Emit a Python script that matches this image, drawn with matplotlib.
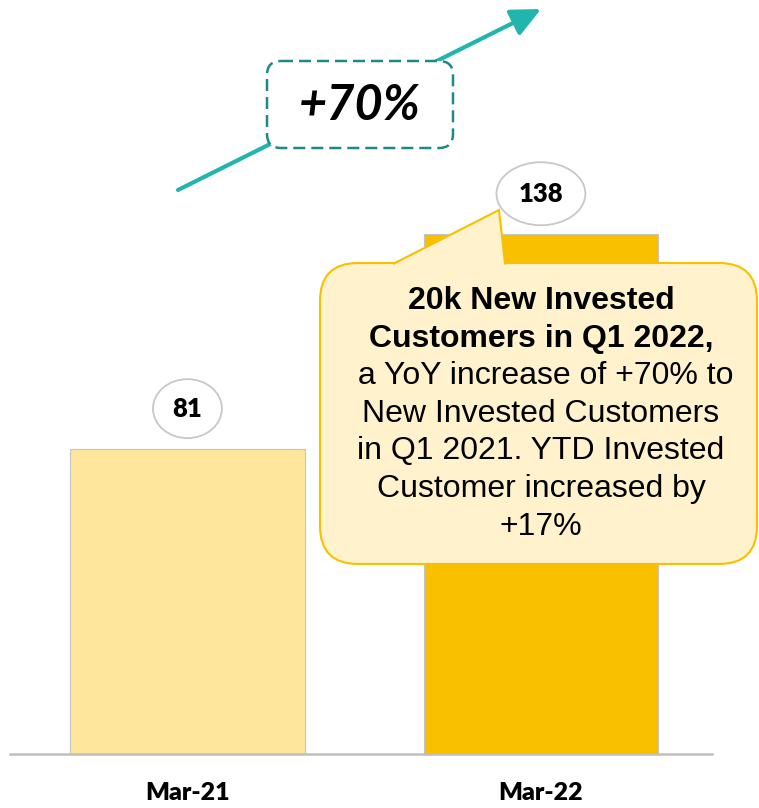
import matplotlib.pyplot as plt
from matplotlib.patches import Ellipse, FancyBboxPatch, FancyArrowPatch, Polygon, Rectangle

# --- data ---
periods = ["Mar-21", "Mar-22"]
customers = [81, 138]
bar_colors = ["#FEE69C", "#F9C000"]
growth_label = "+70%"
note_lines = [
    ("20k New Invested", "bold"),
    ("Customers in Q1 2022,", "bold"),
    (" a YoY increase of +70% to", "normal"),
    ("New Invested Customers", "normal"),
    ("in Q1 2021. YTD Invested", "normal"),
    ("Customer increased by", "normal"),
    ("+17%", "normal"),
]

W, H = 759, 808
fig = plt.figure(figsize=(W / 100, H / 100), dpi=100)

# --- bars ---
ax = fig.add_axes([10 / W, 54 / H, 702 / W, 754 / H])
x = list(range(len(periods)))
ax.bar(x, customers, width=0.664, color=bar_colors, edgecolor="#C4C4C4", linewidth=0.8, zorder=2)
ax.set_xlim(-0.502, 1.484)
ax.set_ylim(0, 200)
for side in ["top", "left", "right"]:
    ax.spines[side].set_visible(False)
ax.spines["bottom"].set_color("#BFBFBF")
ax.spines["bottom"].set_linewidth(1.8)
ax.set_yticks([])
ax.set_xticks(x)
ax.set_xticklabels(periods, fontfamily="Lato", fontweight="heavy", fontsize=18)
ax.tick_params(axis="x", length=0, pad=20)

# value bubbles above each bar
px_x = 354.0  # pixels per x unit
px_y = 754 / 200.0  # pixels per y unit
for xi, v in zip(x, customers):
    label = str(v)
    w = (29 + 20 * len(label)) / px_x
    h = (51 + 4 * len(label)) / px_y
    cy = v + 40 / px_y
    ax.add_patch(Ellipse((xi, cy), w, h, facecolor="white", edgecolor="#C8C8C8",
                         linewidth=1.3, zorder=5, clip_on=False))
    ax.text(xi, cy, label, ha="center", va="center", fontfamily="Lato",
            fontweight="heavy", fontsize=18.5, zorder=6)

# --- overlay in pixel coordinates for the annotations ---
ov = fig.add_axes([0, 0, 1, 1], zorder=3)
ov.set_xlim(0, W)
ov.set_ylim(H, 0)
ov.axis("off")

# growth arrow with dashed label box
ov.add_patch(FancyArrowPatch((178, 190), (541, 9), arrowstyle="-|>,head_length=1.8,head_width=0.85",
                             mutation_scale=10, color="#22B5AE", linewidth=3, shrinkA=0, shrinkB=0, zorder=1))
ov.add_patch(FancyBboxPatch((267, 61), 186, 87, boxstyle="round,pad=0,rounding_size=14",
                            facecolor="white", edgecolor="#1F8A83", linewidth=1.8,
                            linestyle=(0, (4.8, 2.4)), zorder=2))
ov.text(360, 106, growth_label, ha="center", va="center", fontfamily="Lato",
        fontweight="bold", fontstyle="italic", fontsize=35, zorder=3)

# callout bubble
fill, edge = "#FFF2CC", "#F9C000"
ov.add_patch(FancyBboxPatch((320, 263), 437, 301, boxstyle="round,pad=0,rounding_size=38",
                            facecolor=fill, edgecolor=edge, linewidth=1.5, zorder=4))
tail = [(394, 263.5), (499, 210), (505, 263.5)]
ov.add_patch(Rectangle((396, 260), 108, 6, facecolor=fill, edgecolor="none", zorder=5))
ov.add_patch(Polygon(tail, closed=True, facecolor=fill, edgecolor="none", zorder=5))
ov.plot([t[0] for t in tail], [t[1] for t in tail], color=edge, linewidth=1.5, zorder=6,
        solid_joinstyle="miter")

for i, (line, weight) in enumerate(note_lines):
    ov.text(541, 301 + i * 37.6, line, ha="center", va="center", fontfamily="Liberation Sans",
            fontweight=weight, fontsize=23, zorder=7)

fig.savefig("out.png", dpi=100)
